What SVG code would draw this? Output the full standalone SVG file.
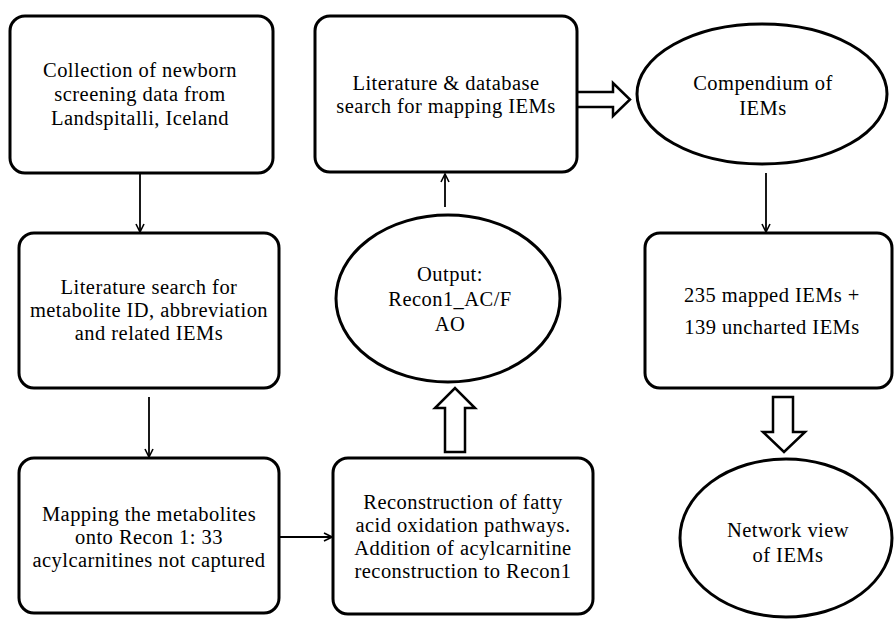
<svg xmlns="http://www.w3.org/2000/svg" width="894" height="619" viewBox="0 0 894 619">
<defs>
<marker id="arr" viewBox="0 0 10 10" refX="9" refY="5" markerWidth="10" markerHeight="10" markerUnits="userSpaceOnUse" orient="auto">
<polyline points="1,1 9,5 1,9" fill="none" stroke="#000" stroke-width="1.6"/>
</marker>
<style>
.box{fill:#fff;stroke:#000;stroke-width:3}
.ell{fill:#fff;stroke:#000;stroke-width:3}
.blk{fill:#fff;stroke:#000;stroke-width:2.5;stroke-linejoin:miter}
.ln{fill:none;stroke:#000;stroke-width:1.8}
</style>
</defs>
<rect width="894" height="619" fill="#fff"/>
<g id="connectors">
<line class="ln" x1="140" y1="173" x2="140" y2="232" marker-end="url(#arr)"/>
<line class="ln" x1="149" y1="397" x2="149" y2="457" marker-end="url(#arr)"/>
<line class="ln" x1="279" y1="537" x2="332" y2="537" marker-end="url(#arr)"/>
<line class="ln" x1="445" y1="207" x2="445" y2="174" marker-end="url(#arr)"/>
<line class="ln" x1="766" y1="173" x2="766" y2="232" marker-end="url(#arr)"/>
<path class="blk" d="M577,92 H613 V83 L630,99.5 L613,116 V107 H577"/>
<path class="blk" d="M445,452 V408 H435 L455,388 L475,408 H465 V452 Z"/>
<path class="blk" d="M773,397 H793 V432 H805 L784,452 L763,432 H773 Z"/>
</g>
<g font-family="Liberation Serif, serif" font-size="20.5" text-anchor="middle" fill="#000" letter-spacing="0.45">
<g id="n1">
<rect class="box" x="10" y="16" width="263" height="157" rx="15"/>
<text x="140" y="77">Collection of newborn</text>
<text x="140" y="101">screening data from</text>
<text x="140" y="125">Landspitalli, Iceland</text>
</g>
<g id="n2">
<rect class="box" x="315" y="16" width="262" height="156" rx="15"/>
<text x="446" y="90">Literature &amp; database</text>
<text x="446" y="113">search for mapping IEMs</text>
</g>
<g id="n3">
<ellipse class="ell" cx="762" cy="94" rx="125" ry="70"/>
<text x="763" y="90">Compendium of</text>
<text x="763" y="115">IEMs</text>
</g>
<g id="n4">
<rect class="box" x="19" y="233" width="260" height="155" rx="15"/>
<text x="149" y="294">Literature search for</text>
<text x="149" y="317">metabolite ID, abbreviation</text>
<text x="149" y="340">and related IEMs</text>
</g>
<g id="n5">
<ellipse class="ell" cx="448" cy="298.5" rx="112" ry="83.5"/>
<text x="450" y="281">Output:</text>
<text x="450" y="306">Recon1_AC/F</text>
<text x="450" y="331">AO</text>
</g>
<g id="n6">
<rect class="box" x="645" y="233" width="247" height="155" rx="15"/>
<text x="772" y="302">235 mapped IEMs +</text>
<text x="772" y="334">139 uncharted IEMs</text>
</g>
<g id="n7">
<rect class="box" x="19" y="458" width="260" height="155" rx="15"/>
<text x="149" y="521">Mapping the metabolites</text>
<text x="149" y="544">onto Recon 1: 33</text>
<text x="149" y="567">acylcarnitines not captured</text>
</g>
<g id="n8">
<rect class="box" x="333" y="458" width="260" height="156" rx="15"/>
<text x="463" y="509">Reconstruction of fatty</text>
<text x="463" y="532">acid oxidation pathways.</text>
<text x="463" y="555">Addition of acylcarnitine</text>
<text x="463" y="578">reconstruction to Recon1</text>
</g>
<g id="n9">
<ellipse class="ell" cx="786" cy="538" rx="106" ry="79"/>
<text x="788" y="537">Network view</text>
<text x="788" y="562">of IEMs</text>
</g>
</g>
</svg>
